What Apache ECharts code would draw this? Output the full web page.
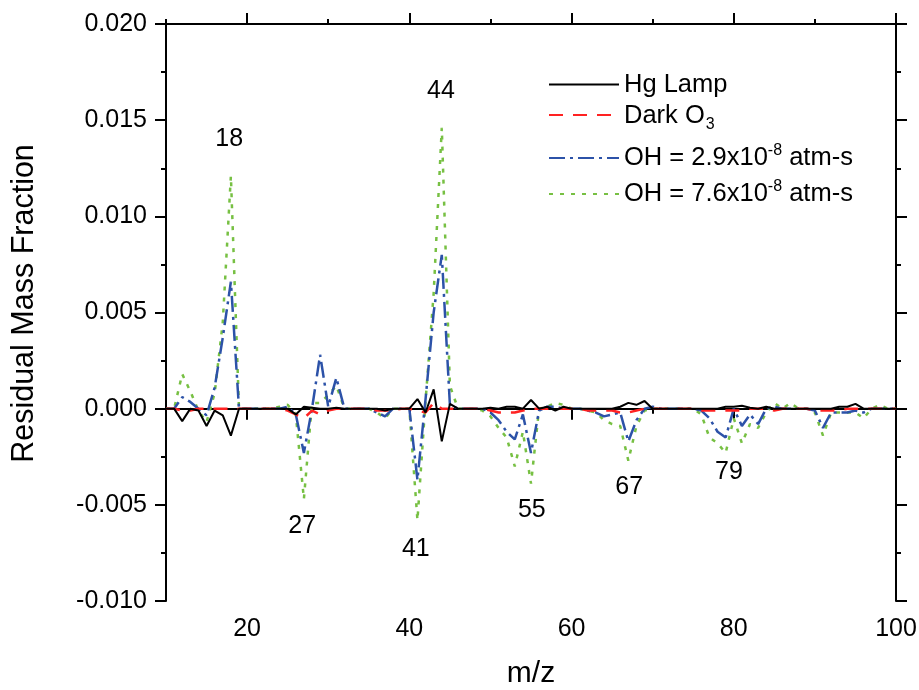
<!DOCTYPE html>
<html>
<head>
<meta charset="utf-8">
<script src="https://cdn.jsdelivr.net/npm/echarts@6/dist/echarts.min.js"></script>
<style>
  html, body { margin: 0; padding: 0; background: #fff; }
  #main { width: 919px; height: 690px; }
</style>
</head>
<body>
<div id="main"></div>
<script>
// m/z channels 10..100
var mz = [
  10, 11, 12, 13, 14, 15, 16, 17, 18, 19,
  20, 21, 22, 23, 24, 25, 26, 27, 28, 29,
  30, 31, 32, 33, 34, 35, 36, 37, 38, 39,
  40, 41, 42, 43, 44, 45, 46, 47, 48, 49,
  50, 51, 52, 53, 54, 55, 56, 57, 58, 59,
  60, 61, 62, 63, 64, 65, 66, 67, 68, 69,
  70, 71, 72, 73, 74, 75, 76, 77, 78, 79,
  80, 81, 82, 83, 84, 85, 86, 87, 88, 89,
  90, 91, 92, 93, 94, 95, 96, 97, 98, 99,
  100
];

var hgLamp = [
  0, 0, -0.00065, 0, -0.0001, -0.0009, -0.0001, -0.00035, -0.0014, 0,
  0, 0, 0, 0, 0, 0, -0.0003, 0.0001, 0.00005, 0,
  0, 0.00005, 0, 0, 0, 0, 0, -0.0001, 0, 0,
  0, 0.0005, -0.0002, 0.001, -0.0017, 0.00025, 0, 0, 0, 0,
  0.00005, 0, 0.0001, 0.0001, 0, 0.00045, 0, 0.0001, -0.0001, 0.0001,
  0, 0, 0, 0, 0, 0, 0.0001, 0.0003, 0.0002, 0.0004,
  0, 0, 0, 0, 0, 0, 0, 0, 0, 0.0001,
  0.0001, 0.00015, 0.00005, 0, 0.0001, 0, 0, 0, 0, 0,
  0, 0, 0, 0.0001, 0.0001, 0.00025, 0, 0, 0, 0,
  0
];

var darkO3 = [
  0, 0, -0.0001, -0.0001, 0, 0, 0, 0, 0, 0,
  0, 0, 0, 0, 0, -0.0001, -0.0003, -0.0005, -0.0001, -0.0003,
  -0.0001, 0, 0, 0, 0, 0, -0.0001, -0.0001, -0.0001, 0,
  0, -0.0001, -0.0002, 0.0003, 0, 0, 0, 0, 0, 0,
  -0.0001, -0.0002, -0.0002, -0.0002, -0.0001, 0, 0, 0, 0, 0,
  0, 0, -0.0001, -0.0001, -0.0001, -0.0001, -0.0002, -0.0002, -0.0001, 0,
  0, 0, 0, 0, 0, 0, -0.0001, -0.0001, -0.0001, -0.0001,
  -0.0001, -0.0001, 0, 0, 0, -0.0001, 0, 0, 0, 0,
  -0.0001, -0.0001, -0.0001, -0.0001, 0, 0, 0, 0, 0, 0,
  0
];

var oh29 = [
  0, 0, 0.0006, 0.00035, 0, -0.00035, 0.0011, 0.0037, 0.0066, 0,
  0, 0, 0, 0, 0, 0.0001, -0.0003, -0.0023, 0, 0.0028,
  0.0001, 0.0016, 0, 0, 0, 0, -0.0002, -0.0004, 0, 0,
  0, -0.0037, 0.0005, 0.005, 0.008, 0.0002, 0, 0, 0, 0,
  -0.0002, -0.0006, -0.0012, -0.0016, -0.0003, -0.0023, -0.0001, 0.0001, 0.0001, 0,
  0, 0, -0.0001, -0.0002, -0.0004, -0.0003, -0.0002, -0.0017, -0.0006, 0,
  0.0001, 0, 0, 0, 0, 0, -0.0001, -0.0005, -0.0012, -0.0015,
  0, -0.0009, -0.0003, -0.0008, 0, 0.0001, 0, 0, 0, 0,
  -0.0001, -0.001, -0.0002, -0.0002, -0.0002, -0.0001, -0.0002, 0, 0, 0,
  0
];

var oh76 = [
  0, 0, 0.0018, 0.0009, -0.0001, -0.0007, 0.0008, 0.0045, 0.0121, 0,
  0, 0, 0, 0, 0.0001, 0.0002, -0.0003, -0.0047, 0.0003, 0.0003,
  0.0007, 0.0012, 0, 0, 0, 0, -0.0002, -0.0005, 0, 0,
  0, -0.0058, 0.0004, 0.006, 0.0146, 0.0012, 0, 0, 0, -0.0001,
  -0.0004, -0.001, -0.0015, -0.003, -0.0012, -0.0039, 0, 0.0001, 0.0003, 0.0002,
  0, 0, -0.0001, -0.0002, -0.0006, -0.0008, -0.0009, -0.0027, -0.0009, -0.0001,
  0, 0, 0, 0, 0, 0, -0.0003, -0.0015, -0.0018, -0.0023,
  -0.0005, -0.0018, -0.0008, -0.001, -0.0002, 0.0003, 0, 0.0003, 0, 0,
  -0.0002, -0.0014, -0.0002, -0.0002, -0.0002, -0.0002, -0.0005, 0, 0.0002, 0,
  0
];

// peak annotations
var peakText = ['18', '44', '27', '41', '55', '67', '79'];
var peakMz = [17.8, 43.9, 26.8, 40.8, 55.1, 67.1, 79.4];
var peakPos = [0.0140, 0.0165, -0.0061, -0.0073, -0.0053, -0.0041, -0.0033];

var xMajor = [20, 40, 60, 80, 100];
var xMinor = [10, 30, 50, 70, 90];

var seriesNames = ['Hg Lamp', 'Dark O3', 'OH = 2.9x10-8 atm-s', 'OH = 7.6x10-8 atm-s'];
var seriesLabels = [
  '{t|Hg Lamp}',
  '{t|Dark O}{sub|3}',
  '{b|OH = 2.9x10}{sup|-8}{b| atm-s}',
  '{b|OH = 7.6x10}{sup|-8}{b| atm-s}'
];

var FONT = 'Liberation Sans, Arial, sans-serif';

function pairs(vals) {
  return mz.map(function (m, i) { return [m, vals[i]]; });
}

var chartDom = document.getElementById('main');
var myChart = echarts.init(chartDom);

var richText = {
  t: { fontSize: 25.5, fontFamily: FONT, color: '#000', lineHeight: 25, verticalAlign: 'top' },
  sub: { fontSize: 16, fontFamily: FONT, color: '#000', lineHeight: 16, padding: [20, 0, 0, 1] },
  b: { fontSize: 25.5, fontFamily: FONT, color: '#000', lineHeight: 25, verticalAlign: 'bottom' },
  sup: { fontSize: 16, fontFamily: FONT, color: '#000', lineHeight: 16, padding: [0, 0, 14, 0] }
};

var legendTops = [72, 97, 143, 179];
var legends = seriesNames.map(function (name, i) {
  return {
    data: [name],
    left: 548,
    top: legendTops[i],
    padding: 0,
    itemWidth: 70,
    itemHeight: 14,
    itemGap: 13,
    selectedMode: false,
    itemStyle: { opacity: 0 },
    formatter: function () { return seriesLabels[i]; },
    textStyle: { fontSize: 25.5, fontFamily: FONT, color: '#000', rich: richText }
  };
});

var tickLabel = { fontSize: 25, fontFamily: FONT, color: '#000' };
var axisLineStyle = { color: '#000', width: 2 };

var option = {
  animation: false,
  backgroundColor: '#fff',
  legend: legends,
  grid: { left: 166, right: 23, top: 24, bottom: 89, containLabel: false, outerBoundsMode: 'none' },
  xAxis: [
    {
      type: 'value', position: 'bottom', min: 10, max: 100, interval: 10,
      name: 'm/z', nameLocation: 'middle', nameGap: 58,
      nameTextStyle: { fontSize: 30, fontFamily: FONT, color: '#000' },
      axisLine: { show: true, lineStyle: axisLineStyle },
      axisTick: { show: true, length: 11, customValues: xMajor, lineStyle: axisLineStyle },
      axisLabel: Object.assign({ margin: 16, customValues: xMajor }, tickLabel),
      splitLine: { show: false }
    },
    {
      type: 'value', position: 'bottom', min: 10, max: 100, interval: 10,
      axisLine: { show: false },
      axisTick: { show: true, length: 5, customValues: xMinor, lineStyle: axisLineStyle },
      axisLabel: { show: false },
      splitLine: { show: false }
    },
    {
      type: 'value', position: 'top', min: 10, max: 100, interval: 10,
      axisLine: { show: true, lineStyle: axisLineStyle },
      axisTick: { show: true, length: 11, customValues: xMajor, lineStyle: axisLineStyle },
      axisLabel: { show: false },
      splitLine: { show: false }
    },
    {
      type: 'value', position: 'top', min: 10, max: 100, interval: 10,
      axisLine: { show: false },
      axisTick: { show: true, length: 5, customValues: xMinor, lineStyle: axisLineStyle },
      axisLabel: { show: false },
      splitLine: { show: false }
    }
  ],
  yAxis: [
    {
      type: 'value', position: 'left', min: -0.01, max: 0.02, interval: 0.005,
      name: 'Residual Mass Fraction', nameLocation: 'middle', nameGap: 126,
      nameTextStyle: { fontSize: 30.5, fontFamily: FONT, color: '#000', padding: [0, 0, 0, 18] },
      axisLine: { show: true, lineStyle: axisLineStyle },
      axisTick: { show: true, length: 11, lineStyle: axisLineStyle },
      minorTick: { show: true, splitNumber: 2, length: 5, lineStyle: axisLineStyle },
      axisLabel: Object.assign({
        margin: 19,
        formatter: function (v) { return v.toFixed(3); }
      }, tickLabel),
      splitLine: { show: false }
    },
    {
      type: 'value', position: 'right', min: -0.01, max: 0.02, interval: 0.005,
      axisLine: { show: true, lineStyle: axisLineStyle },
      axisTick: { show: true, length: 11, lineStyle: axisLineStyle },
      minorTick: { show: true, splitNumber: 2, length: 5, lineStyle: axisLineStyle },
      axisLabel: { show: false },
      splitLine: { show: false }
    }
  ],
  series: [
    {
      name: seriesNames[3], type: 'line', data: pairs(oh76), symbol: 'none',
      lineStyle: { color: '#77c043', width: 2.5, type: [4, 7] },
      itemStyle: { color: '#77c043' }, z: 2
    },
    {
      name: seriesNames[2], type: 'line', data: pairs(oh29), symbol: 'none',
      lineStyle: { color: '#2c52a8', width: 2.5, type: [16, 5, 3, 5] },
      itemStyle: { color: '#2c52a8' }, z: 3
    },
    {
      name: seriesNames[1], type: 'line', data: pairs(darkO3), symbol: 'none',
      lineStyle: { color: '#ff2222', width: 2.5, type: [14, 10] },
      itemStyle: { color: '#ff2222' }, z: 4
    },
    {
      name: seriesNames[0], type: 'line', data: pairs(hgLamp), symbol: 'none',
      lineStyle: { color: '#000', width: 2 },
      itemStyle: { color: '#000' }, z: 5
    },
    {
      name: 'peaks', type: 'scatter', symbolSize: 0,
      itemStyle: { color: '#000', opacity: 1 },
      data: peakMz.map(function (m, i) { return [m, peakPos[i], peakText[i]]; }),
      label: {
        show: true, position: 'inside', fontSize: 25, fontFamily: FONT, color: '#000', opacity: 1,
        formatter: function (p) { return p.data[2]; }
      },
      z: 6
    }
  ]
};

myChart.setOption(option);
</script>
</body>
</html>
